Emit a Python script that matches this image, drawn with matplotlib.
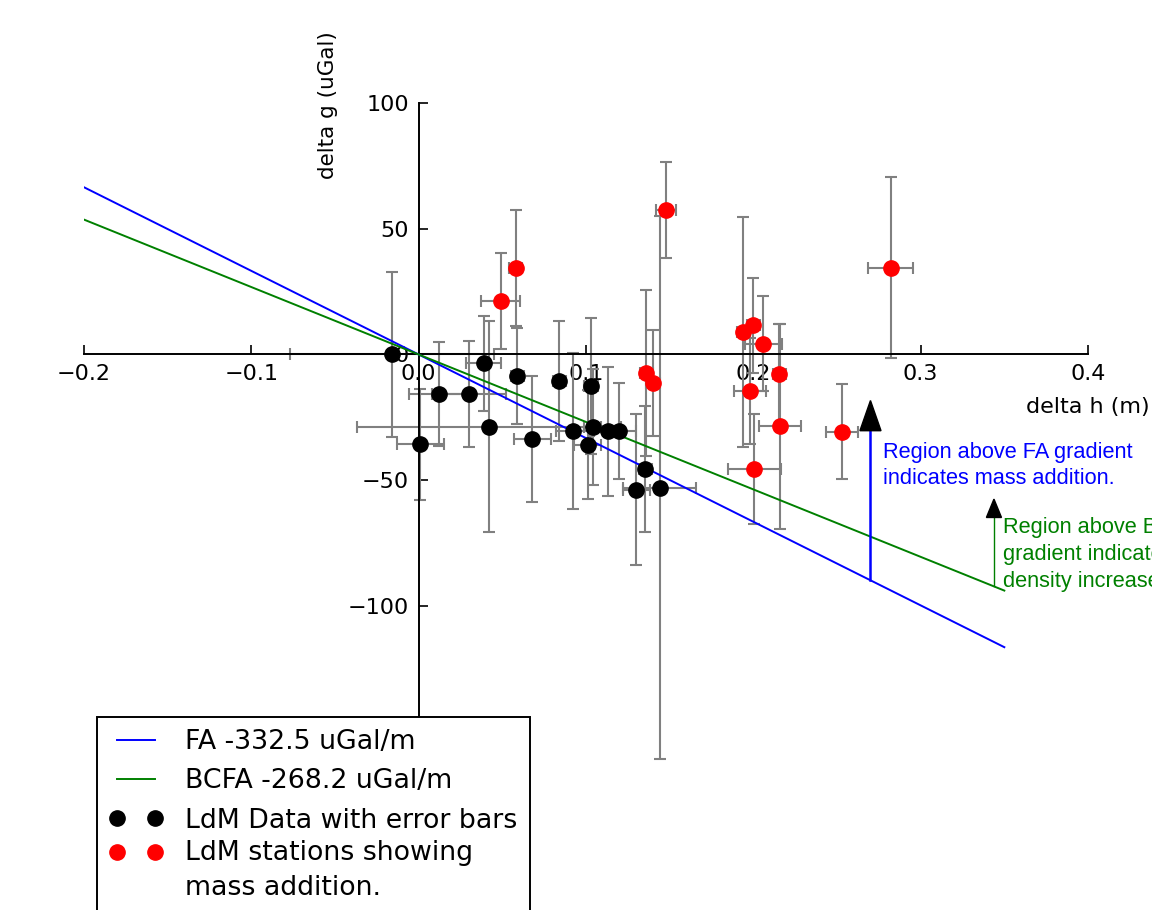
import numpy as np
import matplotlib
matplotlib.use('Agg')
import matplotlib.pyplot as plt

# LdM stations (black): delta h (m), delta g (uGal) and errors
black_dh = [-0.016, 0.001, 0.012, 0.030, 0.039, 0.042, 0.059, 0.068, 0.084,
            0.092, 0.101, 0.104, 0.103, 0.113, 0.120, 0.1355, 0.130, 0.144]
black_dg = [0.0, -35.7, -15.7, -15.7, -3.5, -28.7, -8.5, -33.5, -10.5,
            -30.5, -35.9, -28.7, -12.6, -30.5, -30.5, -45.5, -53.8, -52.9]
black_dh_err = [0.061, 0.014, 0.018, 0.022, 0.0105, 0.079, 0.004, 0.011, 0.004,
                0.0099, 0.008, 0.005, 0.004, 0.008, 0.010, 0.004, 0.008, 0.022]
black_dg_err = [33, 22, 20.5, 21, 19, 42, 19, 25, 24,
                31, 21.6, 23, 27, 25.7, 19, 25, 30, 108]

# stations showing mass addition (red)
red_dh = [0.049, 0.058, 0.148, 0.136, 0.140, 0.194, 0.200, 0.206, 0.2155,
          0.198, 0.216, 0.2006, 0.253, 0.282]
red_dg = [21.2, 34.4, 57.4, -7.3, -11.4, 8.9, 11.6, 4.3, -7.7,
          -14.6, -28.6, -45.5, -30.7, 34.5]
red_dh_err = [0.0117, 0.004, 0.006, 0.004, 0.004, 0.004, 0.004, 0.011, 0.004,
              0.0096, 0.0127, 0.016, 0.0098, 0.0133]
red_dg_err = [19, 23, 19, 33, 21, 45.6, 19, 19, 20,
              21, 40.6, 22, 19, 36]

# gradients (uGal/m)
fa_grad = -332.5
bcfa_grad = -268.2
grad_h = np.array([-0.2, 0.35])

fig = plt.figure(figsize=(11.52, 9.10), dpi=100)
ax = fig.add_axes([84/1152, 1 - 857.5/910, 1004/1152, 754.5/910])

# error bars
ax.errorbar(black_dh + red_dh, black_dg + red_dg,
            xerr=black_dh_err + red_dh_err, yerr=black_dg_err + red_dg_err,
            fmt='none', ecolor='gray', elinewidth=1.5, capsize=4.3, capthick=1.5, zorder=2)

ax.plot(grad_h, fa_grad*grad_h, color='b', lw=1.4, label='FA %.1f uGal/m' % fa_grad, zorder=3)
ax.plot(grad_h, bcfa_grad*grad_h, color='g', lw=1.4, label='BCFA %.1f uGal/m' % bcfa_grad, zorder=3)

ax.plot(black_dh, black_dg, 'o', color='k', ms=11, mec='k',
        label='LdM Data with error bars', zorder=4)
ax.plot(red_dh, red_dg, 'o', color='r', ms=11, mec='r',
        label='LdM stations showing\nmass addition.', zorder=5)

# arrows and notes
x_fa = 0.27
ax.plot([x_fa, x_fa], [fa_grad*x_fa, -30.3], color='b', lw=1.8, zorder=3)
ax.arrow(x_fa, -30.3, 0, 12, width=0, head_width=0.0126, head_length=12,
         length_includes_head=True, fc='k', ec='k', zorder=6)
ax.text(0.2776, -44.3, 'Region above FA gradient\nindicates mass addition.',
        color='b', fontsize=15.7, family='Liberation Sans', va='center', ha='left',
        linespacing=1.32)

x_bc = 0.3438
ax.plot([x_bc, x_bc], [bcfa_grad*x_bc, -64.8], color='g', lw=1.0, zorder=3)
ax.arrow(x_bc, -64.8, 0, 7.3, width=0, head_width=0.009, head_length=7.3,
         length_includes_head=True, fc='k', ec='k', zorder=6)
ax.text(0.3494, -79.5, 'Region above BCFA\ngradient indicates\ndensity increase.',
        color='g', fontsize=15.7, family='Liberation Sans', va='center', ha='left',
        linespacing=1.36, clip_on=False)

# axes through the origin
ax.set_xlim(-0.2, 0.4)
ax.set_ylim(-200, 100)
ax.spines['left'].set_position(('data', 0))
ax.spines['bottom'].set_position(('data', 0))
ax.spines['right'].set_visible(False)
ax.spines['top'].set_visible(False)
for s in ('left', 'bottom'):
    ax.spines[s].set_linewidth(1.4)
ax.xaxis.set_ticks_position('bottom')
ax.yaxis.set_ticks_position('left')
ax.set_xticks([-0.2, -0.1, 0.0, 0.1, 0.2, 0.3, 0.4])
ax.set_yticks([-100, -50, 0, 50, 100])
ax.tick_params(direction='in', length=6.5, width=1.2, labelsize=16, pad=7)

ax.set_xlabel('delta h (m)', fontsize=16)
ax.xaxis.set_label_coords(0.40, -17, transform=ax.transData)
ax.set_ylabel('delta g (uGal)', fontsize=15.5)
ax.yaxis.set_label_coords(-0.048, 99, transform=ax.transData)

leg = ax.legend(loc='upper left', bbox_to_anchor=(97/1152, 1 - 717/910),
                bbox_transform=fig.transFigure, borderaxespad=0, numpoints=2,
                fontsize=19.3, fancybox=False, framealpha=1, edgecolor='k',
                handlelength=2.0, handletextpad=0.85, borderpad=0.45,
                labelspacing=0.5)
leg.get_frame().set_linewidth(1.4)
red_text = leg.get_texts()[3]
red_text.set_linespacing(1.43)
red_text.set_y(7)
# put the red markers level with the first line of their two-line label
red_handle = leg.legend_handles[3]
red_handle.set_ydata(np.asarray(red_handle.get_ydata()) + 19)
leg.set_zorder(10)

fig.savefig('out.png', dpi=100)
